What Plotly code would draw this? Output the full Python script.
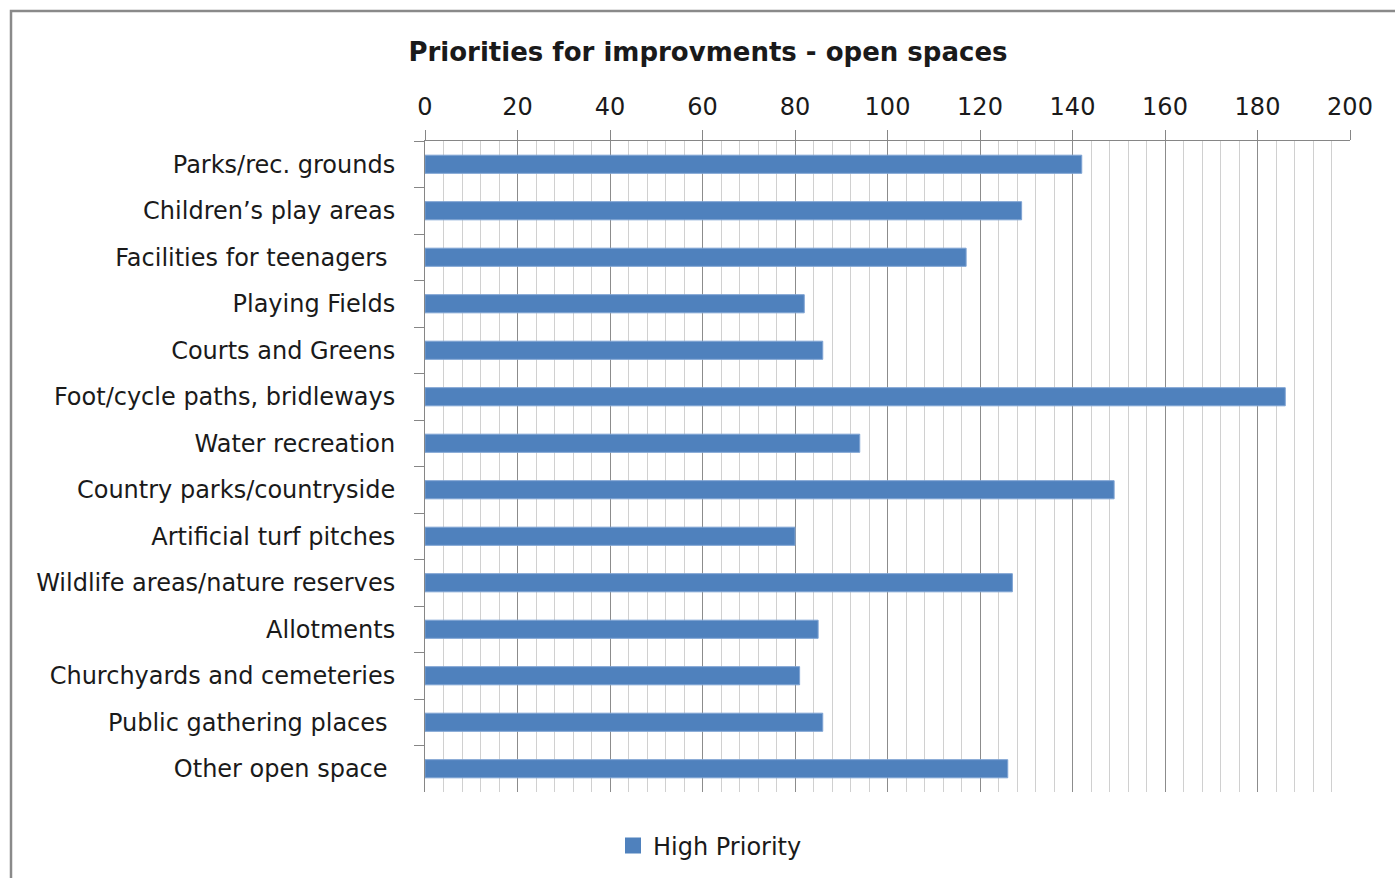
import plotly.graph_objects as go

categories = [
    "Parks/rec. grounds",
    "Children\u2019s play areas",
    "Facilities for teenagers\u00a0",
    "Playing Fields",
    "Courts and Greens",
    "Foot/cycle paths, bridleways",
    "Water recreation",
    "Country parks/countryside",
    "Artificial turf pitches",
    "Wildlife areas/nature reserves",
    "Allotments",
    "Churchyards and cemeteries",
    "Public gathering places\u00a0",
    "Other open space\u00a0",
]
high_priority = [142, 129, 117, 82, 86, 186, 94, 149, 80, 127, 85, 81, 86, 126]

x_ticks = [0, 20, 40, 60, 80, 100, 120, 140, 160, 180, 200]

FONT = "DejaVu Sans"
TEXT = "#1a1a1a"
BLUE = "#4F81BD"

fig = go.Figure()

fig.add_trace(
    go.Bar(
        x=high_priority,
        y=categories,
        orientation="h",
        name="High Priority",
        showlegend=False,
        marker=dict(color=BLUE, line=dict(color="#7EA3D3", width=1)),
    )
)

# legend entry with a larger square swatch
fig.add_trace(
    go.Scatter(
        x=[None],
        y=[None],
        mode="markers",
        name="High Priority",
        marker=dict(symbol="square", size=16, color=BLUE),
        hoverinfo="skip",
    )
)

fig.update_layout(
    width=1395,
    height=878,
    paper_bgcolor="white",
    plot_bgcolor="white",
    margin=dict(l=425, r=45, t=141, b=86, autoexpand=False),
    bargap=0.61,
    font=dict(family=FONT, size=24, color=TEXT),
    title=dict(
        text="<b>Priorities for improvments - open spaces</b>",
        x=708 / 1395,
        xanchor="center",
        y=1 - 52 / 878,
        yanchor="middle",
        font=dict(family=FONT, size=26, color=TEXT),
    ),
    showlegend=True,
    legend=dict(
        orientation="h",
        xref="container",
        yref="container",
        x=710 / 1395,
        xanchor="center",
        y=1 - 846 / 878,
        yanchor="middle",
        font=dict(family=FONT, size=24, color=TEXT),
    ),
    xaxis=dict(
        side="top",
        range=[0, 200],
        tickvals=x_ticks,
        ticks="outside",
        ticklen=10,
        tickcolor="#868686",
        showline=True,
        linecolor="#868686",
        linewidth=1,
        showgrid=True,
        gridcolor="#8c8c8c",
        gridwidth=1,
        zeroline=False,
        minor=dict(dtick=4, showgrid=True, gridcolor="#d0d0d0", gridwidth=1.3),
        ticklabelstandoff=5,
        tickfont=dict(family=FONT, size=24, color=TEXT),
        automargin=False,
        fixedrange=True,
    ),
    yaxis=dict(
        type="category",
        autorange="reversed",
        ticks="outside",
        tickson="boundaries",
        ticklen=10,
        tickcolor="#868686",
        showline=True,
        linecolor="#868686",
        linewidth=1,
        showgrid=False,
        ticklabelstandoff=24,
        tickfont=dict(family=FONT, size=24, color=TEXT),
        automargin=False,
        fixedrange=True,
    ),
    shapes=[
        dict(
            type="rect",
            xref="paper",
            yref="paper",
            x0=(11 - 425) / 925,
            x1=2,
            y0=-1,
            y1=(792 - 11) / 651,
            line=dict(color="#8a8a8a", width=2.5),
            fillcolor="rgba(0,0,0,0)",
            layer="below",
        )
    ],
)

fig.write_html("out.html")
